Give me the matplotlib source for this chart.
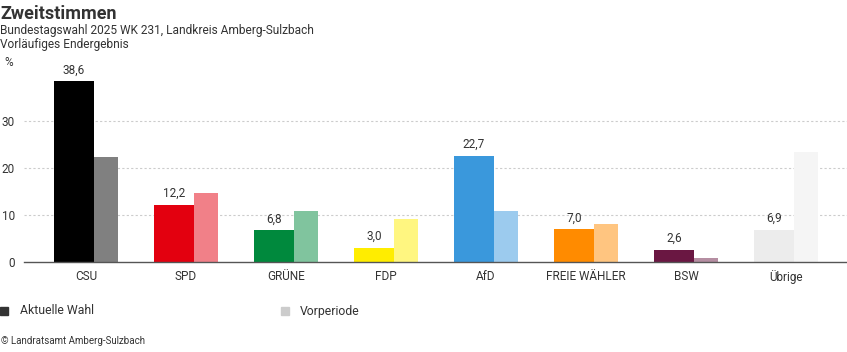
import matplotlib
matplotlib.use("Agg")
import matplotlib.pyplot as plt
from matplotlib.patches import Rectangle

plt.rcParams['font.family'] = ['Roboto', 'DejaVu Sans']

categories = ["CSU", "SPD", "GRÜNE", "FDP", "AfD", "FREIE WÄHLER", "BSW", "Übrige"]
current = [38.6, 12.2, 6.8, 3.0, 22.7, 7.0, 2.6, 6.9]
previous = [22.4, 14.7, 10.9, 9.2, 10.9, 8.1, 0.9, 23.4]
current_labels = ["38,6", "12,2", "6,8", "3,0", "22,7", "7,0", "2,6", "6,9"]
colors_cur = ["#000000", "#e3000f", "#00893d", "#ffed00", "#3a98dc", "#ff8b00", "#6a1742", "#ececec"]
colors_prev = ["#808080", "#f18088", "#80c49e", "#fff680", "#9ccbee", "#ffc580", "#b58ea2", "#f5f5f5"]
yticks = [0, 10, 20, 30]

W, H = 847, 352
fig = plt.figure(figsize=(W / 100, H / 100), dpi=100)

def fx(px):
    return px / W

def fy(py):
    return 1 - py / H

# axes: left 24px, baseline at y=262, 4.69 px per unit, ylim 0..40
ax_left, ax_right = 24, 847
y0_px = 262
ppu = 4.69
ymax = 40
top_px = y0_px - ymax * ppu
ax = fig.add_axes([fx(ax_left), fy(y0_px), fx(ax_right - ax_left), (y0_px - top_px) / H])
ax.set_ylim(0, ymax)
ax.set_xlim((ax_left - 86) / 100, (ax_right - 86) / 100)

for s in ["top", "right", "left"]:
    ax.spines[s].set_visible(False)
ax.spines["bottom"].set_color("#555555")
ax.spines["bottom"].set_linewidth(1.0)

ax.set_yticks(yticks)
ax.set_yticklabels([str(t) for t in yticks])
for t in yticks[1:]:
    ax.axhline(t, color="#cccccc", lw=0.8, ls=(0, (2, 2)), zorder=0)
ax.tick_params(axis="y", length=0, pad=6.5, labelsize=8.5, labelcolor="#333333")
ax.tick_params(axis="x", length=0, pad=6, labelsize=8.5, labelcolor="#333333")

xs = list(range(len(categories)))
w_cur, w_prev = 0.40, 0.24
for i, x in enumerate(xs):
    ax.bar(x - 0.32, current[i], width=w_cur, align="edge", color=colors_cur[i], zorder=2)
    ax.bar(x + 0.08, previous[i], width=w_prev, align="edge", color=colors_prev[i], zorder=2)
    ax.text(x - 0.12, current[i] + 1.0, current_labels[i], ha="center", va="bottom",
            fontsize=8.5, color="#333333")

ax.set_xticks(xs)
ax.set_xticklabels(categories)

# Titles
fig.text(fx(0), fy(19), "Zweitstimmen", fontsize=13, fontweight="bold", color="#333333",
         ha="left", va="baseline")
fig.text(fx(0), fy(34), "Bundestagswahl 2025 WK 231, Landkreis Amberg-Sulzbach", fontsize=8.6,
         color="#333333", ha="left", va="baseline")
fig.text(fx(0), fy(48), "Vorläufiges Endergebnis", fontsize=8.6, color="#333333",
         ha="left", va="baseline")
fig.text(fx(4), fy(63), "%", fontsize=8.5, color="#333333", ha="left", va="center")

# Legend
fig.patches.append(Rectangle((fx(0), fy(315)), fx(8), 8 / H, transform=fig.transFigure,
                             color="#333333", figure=fig))
fig.text(fx(20), fy(311), "Aktuelle Wahl", fontsize=8.8, color="#333333", ha="left", va="center")
fig.patches.append(Rectangle((fx(281), fy(315)), fx(8), 8 / H, transform=fig.transFigure,
                             color="#cccccc", figure=fig))
fig.text(fx(300), fy(311), "Vorperiode", fontsize=8.8, color="#333333", ha="left", va="center")

fig.text(fx(1), fy(341), "© Landratsamt Amberg-Sulzbach", fontsize=7, color="#333333",
         ha="left", va="center")

fig.savefig("out.png", dpi=100)
